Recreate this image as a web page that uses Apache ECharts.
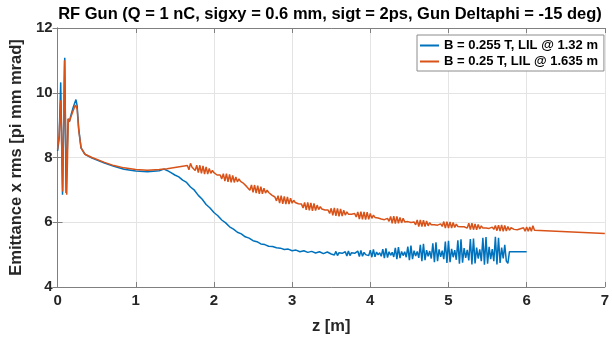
<!DOCTYPE html>
<html><head><meta charset="utf-8">
<script src="https://cdn.jsdelivr.net/npm/echarts@6/dist/echarts.min.js"></script>
<style>html,body{margin:0;padding:0;background:#fff}#c{width:612px;height:340px}</style>
</head><body><div id="c"></div>
<script>
const titleText = 'RF Gun (Q = 1 nC, sigxy = 0.6 mm, sigt = 2ps, Gun Deltaphi = -15 deg)';
const seriesNames = ['B = 0.255 T, LIL @ 1.32 m', 'B = 0.25 T, LIL @ 1.635 m'];
const xTicks = [0,1,2,3,4,5,6,7];
const yTicks = [4,6,8,10,12];

// blue: [z, emittance] pairs for start and smooth decline
const blueStart = [[0,8.2],[0.02,8.6],[0.04,10.32],[0.063,6.85],[0.092,11.08],[0.108,6.9],[0.135,9.2],[0.15,9.1],[0.17,9.3],[0.2,9.55],[0.235,9.79],[0.25,9.6],[0.27,8.9],[0.30,8.3],[0.35,8.1],[0.44,7.98],[0.6,7.83],[0.72,7.73],[0.85,7.64],[1.0,7.58],[1.15,7.56],[1.3,7.59],[1.36,7.64],
[1.40,7.60],[1.45,7.53],[1.50,7.46],[1.55,7.40],[1.60,7.30],[1.65,7.23],[1.70,7.09],[1.75,6.99],[1.80,6.83],[1.85,6.71],[1.90,6.55],[1.95,6.44],[2.00,6.30],[2.05,6.20],[2.10,6.07],[2.15,5.98],[2.20,5.86],[2.25,5.79],[2.30,5.69],[2.35,5.64],[2.40,5.55],[2.45,5.51],[2.50,5.43],[2.55,5.40],[2.60,5.33],[2.65,5.31],[2.70,5.26],[2.75,5.25],[2.80,5.21],[2.85,5.20],[2.90,5.16],[2.95,5.17],[3.00,5.12],[3.05,5.14],[3.10,5.09],[3.15,5.12],[3.20,5.07],[3.25,5.10],[3.30,5.05],[3.35,5.09],[3.40,5.03],[3.45,5.08],[3.50,5.02]];
// blue noisy part: values at z = 3.52, 3.54, ... 5.76
const blueNoiseStart = 3.52, blueNoiseStep = 0.02;
const blueNoise = [5.08,4.99,5.10,4.97,5.06,5.01,5.04,5.00,5.09,4.96,5.11,4.97,5.06,5.00,5.04,4.99,5.11,4.94,5.13,4.95,
5.07,5.00,5.05,4.97,5.14,4.92,5.16,4.93,5.08,4.99,5.06,4.95,5.17,4.89,5.19,4.91,5.09,4.98,5.07,4.93,
5.21,4.86,5.23,4.89,5.10,4.97,5.09,4.92,5.25,4.83,5.28,4.86,5.12,4.96,5.10,4.90,5.30,4.80,5.33,4.83,
5.14,4.95,5.11,4.88,5.35,4.77,5.38,4.80,5.16,4.93,5.12,4.86,5.40,4.74,5.43,4.77,5.18,4.92,5.14,4.84,
5.44,4.72,5.47,4.75,5.20,4.90,5.15,4.82,5.48,4.70,5.50,4.73,5.22,4.88,5.16,4.80,5.52,4.69,5.54,4.72,
5.24,4.86,5.17,4.80,5.55,4.70,5.52,4.74,5.22,4.88,5.30,4.80,4.73];
const blueTail = [[5.78,5.09],[6.0,5.09]];

// orange: start pairs
const orangeStart = [[0,8.25],[0.02,8.7],[0.04,9.77],[0.065,6.95],[0.088,11.0],[0.117,6.85],[0.137,9.2],[0.15,9.1],[0.17,9.25],[0.2,9.45],[0.229,9.62],[0.25,9.5],[0.27,8.85],[0.30,8.3],[0.35,8.1],[0.44,8.0],[0.6,7.85],[0.72,7.75],[0.85,7.68],[1.0,7.63],[1.15,7.61],[1.3,7.63],[1.4,7.65],[1.5,7.69],[1.6,7.73],[1.66,7.75],[1.68,7.62]];
// orange oscillating part: values at z = 1.70, 1.72, ... 6.10
const orangeOscStart = 1.70, orangeOscStep = 0.02;
const orangeOsc = [7.82,7.70,
7.72,7.60,7.76,7.53,7.76,7.51,7.74,7.49,7.71,7.49,7.66,7.51,7.60,7.53,
7.50,7.46,7.43,
7.46,7.34,7.50,7.27,7.50,7.25,7.48,7.23,7.45,7.23,7.40,7.25,7.34,7.26,
7.24,7.20,7.15,7.10,
7.11,6.99,7.15,6.92,7.15,6.90,7.13,6.88,7.10,6.88,7.05,6.90,6.99,6.92,
6.88,6.84,6.80,
6.78,6.66,6.82,6.59,6.82,6.57,6.80,6.56,6.78,6.56,6.74,6.59,6.68,6.61,
6.60,6.57,6.54,
6.56,6.44,6.61,6.38,6.61,6.37,6.60,6.35,6.58,6.36,6.53,6.39,6.48,6.41,
6.40,6.38,6.36,
6.38,6.27,6.43,6.21,6.44,6.20,6.43,6.18,6.41,6.19,6.37,6.22,6.32,6.25,
6.26,6.25,6.24,
6.27,6.16,6.32,6.10,6.33,6.09,6.32,6.08,6.31,6.09,6.27,6.12,6.22,6.15,
6.15,6.13,6.11,6.10,6.09,6.08,6.08,
6.12,6.03,6.18,5.97,6.19,5.96,6.18,5.97,6.15,5.98,6.12,6.01,6.06,
6.02,6.00,5.99,5.98,
6.01,5.92,6.07,5.87,6.07,5.87,6.06,5.87,6.04,5.89,5.99,5.92,
5.93,5.92,5.91,5.91,5.91,
5.95,5.87,6.02,5.82,6.02,5.82,6.01,5.82,5.99,5.84,5.94,5.87,
5.87,5.86,5.86,5.86,
5.90,5.82,5.97,5.77,5.97,5.77,5.95,5.77,5.93,5.79,5.89,5.82,
5.83,5.82,5.82,5.81,5.81,
5.85,5.78,5.90,5.74,5.91,5.73,5.92,5.72,5.90,5.73,5.87,5.75,5.83,5.77,
5.78,5.77,5.77,5.77,
5.80,5.74,5.83,5.72,5.85,5.72,5.85,5.72,5.89,5.75];
const orangeTail = [[6.12,5.75],[7.0,5.65]];

const blueData = blueStart.concat(blueNoise.map((v,i)=>[+(blueNoiseStart+i*blueNoiseStep).toFixed(3), v]), blueTail);
const orangeData = orangeStart.concat(orangeOsc.map((v,i)=>[+(orangeOscStart+i*orangeOscStep).toFixed(3), v]), orangeTail);

const FONT = '"Liberation Sans", Arial, sans-serif';
const axisGray = '#808080';
const gridGray = '#e4e4e4';
const labelStyle = {fontFamily: FONT, fontWeight: 'bold', fontSize: 15, color: '#262626'};

const chart = echarts.init(document.getElementById('c'), null, {renderer: 'canvas'});
chart.setOption({
  animation: false,
  backgroundColor: '#fff',
  title: {text: titleText, left: 325, textAlign: 'center', top: 1,
    textStyle: {fontFamily: FONT, fontWeight: 'bold', fontSize: 16.5, color: '#000'}},
  legend: {orient: 'vertical', left: 417, top: 35, backgroundColor: '#fff', borderColor: '#8c8c8c', borderWidth: 1,
    padding: [4, 6, 3, 3], itemGap: 3, itemWidth: 19, itemHeight: 2, icon: 'rect',
    textStyle: {fontFamily: FONT, fontWeight: 'bold', fontSize: 13, color: '#000'},
    data: seriesNames},
  grid: {left: 49, right: 3, top: 28, bottom: 48, containLabel: false},
  xAxis: [{type: 'value', min: xTicks[0], max: xTicks[xTicks.length-1], interval: 1,
      name: 'z [m]', nameLocation: 'middle', nameGap: 31,
      nameTextStyle: {fontFamily: FONT, fontWeight: 'bold', fontSize: 16.5, color: '#262626'},
      axisLine: {show: true, lineStyle: {color: axisGray, width: 1}},
      axisTick: {show: true, inside: true, length: 5, lineStyle: {color: axisGray}},
      axisLabel: Object.assign({margin: 6}, labelStyle),
      splitLine: {show: true, lineStyle: {color: gridGray, width: 1}}},
    {type: 'value', position: 'top', min: 0, max: 7, interval: 1,
      axisLine: {show: true, lineStyle: {color: axisGray, width: 1}},
      axisTick: {show: true, inside: true, length: 5, lineStyle: {color: axisGray}},
      axisLabel: {show: false}, splitLine: {show: false}}],
  yAxis: [{type: 'value', min: yTicks[0], max: yTicks[yTicks.length-1], interval: 2,
      name: 'Emittance x rms [pi mm mrad]', nameLocation: 'middle', nameGap: 25,
      nameTextStyle: {fontFamily: FONT, fontWeight: 'bold', fontSize: 16.5, color: '#262626'},
      axisLine: {show: true, lineStyle: {color: axisGray, width: 1}},
      axisTick: {show: true, inside: true, length: 5, lineStyle: {color: axisGray}},
      axisLabel: Object.assign({margin: 5}, labelStyle),
      splitLine: {show: true, lineStyle: {color: gridGray, width: 1}}},
    {type: 'value', position: 'right', min: 4, max: 12, interval: 2,
      axisLine: {show: true, lineStyle: {color: axisGray, width: 1}},
      axisTick: {show: true, inside: true, length: 5, lineStyle: {color: axisGray}},
      axisLabel: {show: false}, splitLine: {show: false}}],
  series: [
    {name: seriesNames[0], type: 'line', data: blueData, symbol: 'none', showSymbol: false,
      lineStyle: {color: '#0072BD', width: 1.5}, itemStyle: {color: '#0072BD'}, z: 2},
    {name: seriesNames[1], type: 'line', data: orangeData, symbol: 'none', showSymbol: false,
      lineStyle: {color: '#D95319', width: 1.5}, itemStyle: {color: '#D95319'}, z: 3}
  ]
});
</script></body></html>
